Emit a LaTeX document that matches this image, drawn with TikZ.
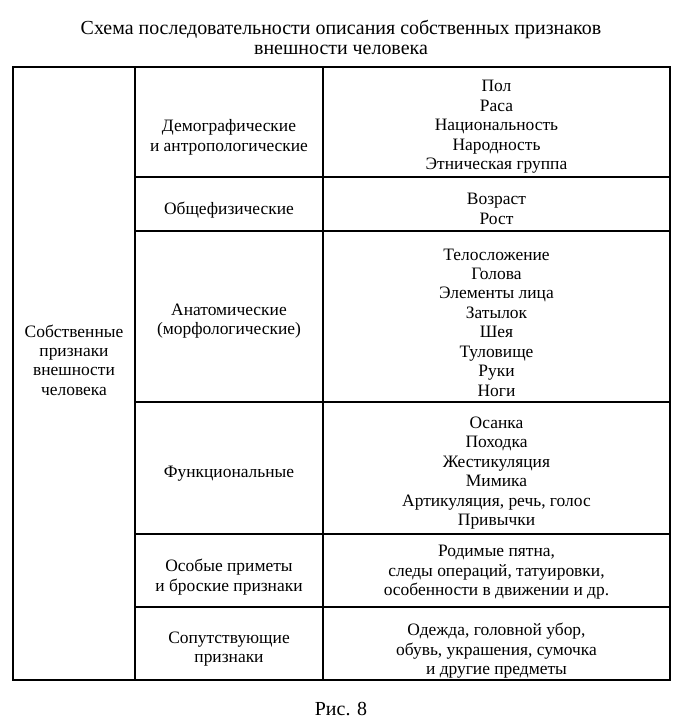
\documentclass[tikz,border=0pt]{standalone}
\usepackage{fontspec}
\setmainfont{Liberation Serif}
\usetikzlibrary{positioning}

\begin{document}
\begin{tikzpicture}[x=1bp, y=-1bp, line width=1.1bp,
    txt/.style={align=center, inner sep=0pt, font=\fontsize{17.5}{19.5}\selectfont}]
    \useasboundingbox (0,0) rectangle (683,721);
    \node[txt, font=\fontsize{20}{21}\selectfont] (title) at (341,37.5)
        {Схема последовательности описания собственных признаков\\внешности человека};

    % table frame
    \draw (13,67) rectangle (670,680);
    \draw (135,67) -- (135,680);
    \draw (323,67) -- (323,680);
    \foreach \y in {177,231,402,534,607}
        \draw (135,\y) -- (670,\y);

    % left column
    \node[txt] (own) at (74,360) {Собственные\\признаки\\внешности\\человека};

    % groups
    \node[txt] (demo) at (229,137.5) {Демографические\\и антропологические};
    \node[txt] (phys) at (229,210.5) {Общефизические};
    \node[txt] (anat) at (229,321) {Анатомические\\(морфологические)};
    \node[txt] (func) at (229,473.5) {Функциональные};
    \node[txt] (spec) at (229,577) {Особые приметы\\и броские признаки};
    \node[txt] (acc) at (229,649) {Сопутствующие\\признаки};

    % features
    \node[txt] (demoF) at (496.5,127) {Пол\\Раса\\Национальность\\Народность\\Этническая группа};
    \node[txt] (physF) at (496.5,209) {Возраст\\Рост};
    \node[txt] (anatF) at (496.5,322.5) {Телосложение\\Голова\\Элементы лица\\Затылок\\Шея\\Туловище\\Руки\\Ноги};
    \node[txt] (funcF) at (496.5,473) {Осанка\\Походка\\Жестикуляция\\Мимика\\Артикуляция, речь, голос\\Привычки};
    \node[txt] (specF) at (496.5,572.5) {Родимые пятна,\\следы операций, татуировки,\\особенности в движении и др.};
    \node[txt] (accF) at (496.5,651) {Одежда, головной убор,\\обувь, украшения, сумочка\\и другие предметы};

    \node[txt, font=\fontsize{20}{21}\selectfont] (fig) at (341,709) {Рис. 8};
\end{tikzpicture}
\end{document}
